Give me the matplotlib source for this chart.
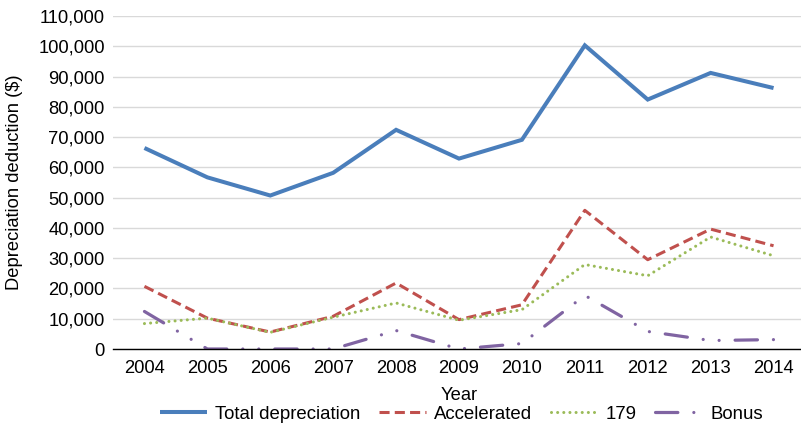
import matplotlib
matplotlib.use("Agg")
import matplotlib.pyplot as plt
from matplotlib.ticker import FuncFormatter, MultipleLocator

plt.rcParams['font.family'] = ['Liberation Sans', 'DejaVu Sans']

years = [2004, 2005, 2006, 2007, 2008, 2009, 2010, 2011, 2012, 2013, 2014]
total_depreciation = [66400, 56700, 50700, 58200, 72400, 62900, 69100, 100300, 82400, 91200, 86200]
accelerated = [20700, 10200, 5600, 10800, 21800, 9700, 14600, 45800, 29500, 39600, 34100]
sec_179 = [8400, 10200, 5500, 10500, 15200, 9500, 13000, 27900, 24200, 37000, 30800]
bonus = [12400, 0, 0, 0, 6100, 0, 1800, 17700, 5800, 2800, 3100]

FS = 13.2

fig = plt.figure(figsize=(8.01, 4.33), dpi=100)
ax = fig.add_axes([113/801, 1 - 349/433, 692/801, 333/433])

ax.plot(years, total_depreciation, color='#4A7EBB', lw=2.9, solid_capstyle='butt',
        solid_joinstyle='miter', label='Total depreciation', zorder=4)
ax.plot(years, accelerated, color='#C0504D', lw=2.2, linestyle=(0, (3.3, 1.7)),
        dash_capstyle='butt', label='Accelerated', zorder=3)
ax.plot(years, sec_179, color='#9BBB59', lw=2.2, linestyle=(0, (0.01, 2.0)),
        dash_capstyle='round', label='179', zorder=3)
ax.plot(years, bonus, color='#8064A2', lw=2.3,
        linestyle=(0, (7, 5, 0.01, 5, 0.01, 5)),
        dash_capstyle='round', label='Bonus', zorder=3)

ax.set_xlim(2003.5, 2014.5)
ax.set_ylim(0, 110000)
ax.xaxis.set_major_locator(MultipleLocator(1))
ax.yaxis.set_major_locator(MultipleLocator(10000))
ax.yaxis.set_major_formatter(FuncFormatter(lambda v, p: f"{int(v):,}"))

ax.grid(axis='y', color='#D9D9D9', lw=1.0)
ax.set_axisbelow(True)
for side in ['top', 'right', 'left']:
    ax.spines[side].set_visible(False)
ax.spines['bottom'].set_color('black')
ax.spines['bottom'].set_linewidth(1.0)
ax.spines['bottom'].set_zorder(5)

ax.tick_params(axis='both', length=0, labelsize=FS, colors='black')
ax.tick_params(axis='x', pad=8)
ax.tick_params(axis='y', pad=6)

ax.set_xlabel('Year', fontsize=FS, va='top')
ax.xaxis.set_label_coords(0.5, -(387 - 349) / 333)
ax.set_ylabel('Depreciation deduction ($)', fontsize=FS, va='center')
ax.yaxis.set_label_coords((15 - 113) / 692, 0.5)

fig.legend(loc='center', bbox_to_anchor=(461.5/801, 1 - 414/433), ncol=4,
           frameon=False, fontsize=13.4, handlelength=2.5, handletextpad=0.45,
           columnspacing=1.0, borderpad=0, borderaxespad=0)

fig.savefig('out.png', dpi=100)
